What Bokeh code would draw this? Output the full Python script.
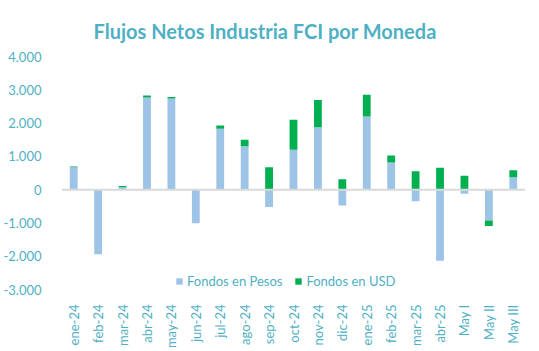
import math
from bokeh.plotting import figure
from bokeh.models import ColumnDataSource, Span, Legend, LegendItem, FixedTicker, CustomJSTickFormatter
from bokeh.embed import file_html
from bokeh.resources import INLINE

categories = ["ene-24", "feb-24", "mar-24", "abr-24", "may-24", "jun-24", "jul-24",
              "ago-24", "sep-24", "oct-24", "nov-24", "dic-24", "ene-25", "feb-25",
              "mar-25", "abr-25", "May I", "May II", "May III"]
pesos = [670, -1940, 70, 2770, 2740, -1010, 1830, 1300, -520, 1200, 1875, -475,
         2195, 815, -345, -2140, -120, -930, 370]
usd = [25, 0, 40, 60, 45, 0, 100, 200, 670, 900, 815, 310, 655, 210, 550, 655,
       415, -160, 210]
y_ticks = [-3000, -2000, -1000, 0, 1000, 2000, 3000, 4000]

TEAL = "#4FB0C4"
BLUE = "#9DC3E6"
GREEN = "#00B050"
FONT = "Lato"

# stack positives and negatives separately (Excel-style)
p_bot = [min(v, 0) for v in pesos]
p_top = [max(v, 0) for v in pesos]
u_bot, u_top = [], []
for p, u in zip(pesos, usd):
    if u >= 0:
        b = max(p, 0)
        u_bot.append(b)
        u_top.append(b + u)
    else:
        t = min(p, 0)
        u_top.append(t)
        u_bot.append(t + u)

src = ColumnDataSource(dict(cat=categories, pb=p_bot, pt=p_top, ub=u_bot, ut=u_top))

p = figure(width=539, height=351, x_range=categories, y_range=(-3000, 4000),
           output_backend="svg", toolbar_location=None,
           min_border_left=59, min_border_right=14, min_border_top=56,
           min_border_bottom=60)
p.title.text = "Flujos Netos Industria FCI por Moneda"
p.title.align = "left"
p.title.text_font = FONT
p.title.text_font_style = "bold"
p.title.text_font_size = "20px"
p.title.text_color = TEAL
p.title.offset = 32
p.title.standoff = 28

r1 = p.vbar(x="cat", bottom="pb", top="pt", width=0.32, source=src,
            fill_color=BLUE, line_color=None)
r2 = p.vbar(x="cat", bottom="ub", top="ut", width=0.32, source=src,
            fill_color=GREEN, line_color=None)

p.add_layout(Span(location=0, dimension="width", line_color="#D9D9D9", line_width=2))

p.outline_line_color = None
p.xgrid.grid_line_color = None
p.ygrid.grid_line_color = None

p.yaxis.ticker = FixedTicker(ticks=y_ticks)
p.yaxis.formatter = CustomJSTickFormatter(code="""
    const s = Math.abs(tick).toString().replace(/\\B(?=(\\d{3})+(?!\\d))/g, '.');
    return (tick < 0 ? '-' : '') + s;
""")
p.yaxis.axis_line_color = None
p.yaxis.major_tick_line_color = None
p.yaxis.minor_tick_line_color = None
p.yaxis.major_label_standoff = 14
p.yaxis.major_label_text_font = FONT
p.yaxis.major_label_text_font_size = "13px"
p.yaxis.major_label_text_color = TEAL

p.xaxis.axis_line_color = None
p.xaxis.major_tick_line_color = None
p.xaxis.major_label_orientation = math.pi / 2
p.xaxis.major_label_standoff = 9
p.xaxis.major_label_text_font = FONT
p.xaxis.major_label_text_font_size = "13px"
p.xaxis.major_label_text_color = TEAL

legend = Legend(items=[LegendItem(label="Fondos en Pesos", renderers=[r1]),
                       LegendItem(label="Fondos en USD", renderers=[r2])],
                orientation="horizontal", location=(114, 0),
                background_fill_alpha=0, border_line_color=None,
                label_text_font=FONT, label_text_font_size="13px",
                label_text_color=TEAL, glyph_width=8, glyph_height=8,
                label_height=8, label_text_line_height=1.0,
                spacing=12, margin=0, padding=0, label_standoff=4)
p.add_layout(legend)

open("out.html", "w").write(file_html(p, INLINE))
